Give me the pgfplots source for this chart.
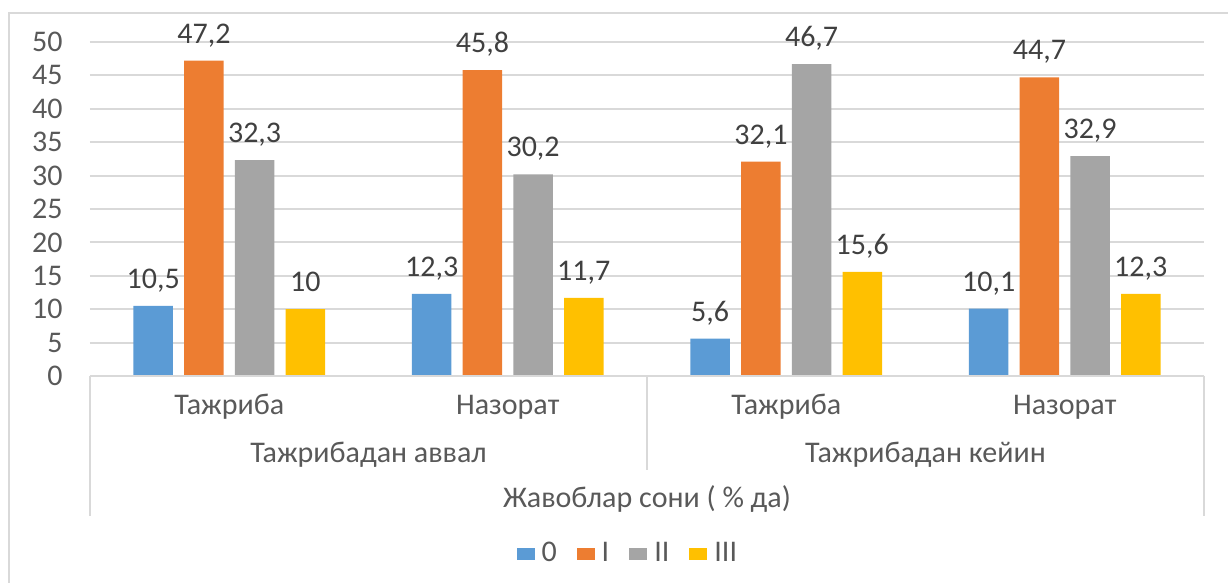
\documentclass[border=0pt]{standalone}
\usepackage{pgfplots}
\pgfplotsset{compat=1.18}
\usepackage{fontspec}
\setmainfont{Carlito}
\definecolor{cO}{HTML}{5B9BD5}
\definecolor{cI}{HTML}{ED7D31}
\definecolor{cII}{HTML}{A5A5A5}
\definecolor{cIII}{HTML}{FFC000}
\definecolor{grid}{HTML}{D9D9D9}
\definecolor{txt}{HTML}{595959}
\definecolor{lbl}{HTML}{404040}
\begin{document}
\fontsize{15}{18}\selectfont
\begin{tikzpicture}
\begin{axis}[
  name=ax,
  scale only axis,
  width=557pt, height=167pt,
  xmin=-0.5, xmax=3.5, ymin=0, ymax=50,
  enlargelimits=false,
  clip=false,
  ybar=5.6pt, bar width=19.75pt,
  axis line style={draw=none},
  major tick length=0pt,
  ymajorgrids, grid style={draw=grid, line width=1pt},
  ytick={0,5,...,50},
  xtick={0,1,2,3}, xticklabels={},
  yticklabel style={anchor=east, inner sep=0pt, xshift=-13.5pt, text=txt},
  /pgf/number format/assume math mode=true,
  /pgf/number format/use comma,
  nodes near coords,
  nodes near coords style={anchor=base, yshift=8.75pt, text=lbl, inner sep=0pt},
  legend columns=4,
  legend style={draw=none, at={(rel axis cs:0.485,0)}, anchor=center, yshift=-89pt,
    /tikz/every even column/.append style={column sep=6.5pt}, text=txt, inner sep=0pt,
    nodes={inner xsep=3.5pt, inner ysep=1.5pt}},
  legend image code/.code={\fill[#1] (0pt,-3pt) rectangle (9pt,3pt);},
]
\addplot[fill=cO, draw=none] coordinates {(0,10.5) (1,12.3) (2,5.6) (3,10.1)};
\addplot[fill=cI, draw=none] coordinates {(0,47.2) (1,45.8) (2,32.1) (3,44.7)};
\addplot[fill=cII, draw=none] coordinates {(0,32.3) (1,30.2) (2,46.7) (3,32.9)};
\addplot[fill=cIII, draw=none] coordinates {(0,10) (1,11.7) (2,15.6) (3,12.3)};
\legend{0,I,II,III}
\draw[grid, line width=1pt] (axis cs:-0.5,0) -- (axis cs:3.5,0);
\draw[grid, line width=1pt] (axis cs:-0.5,0) -- ([yshift=-70pt]axis cs:-0.5,0);
\draw[grid, line width=1pt] (axis cs:1.5,0) -- ([yshift=-47pt]axis cs:1.5,0);
\draw[grid, line width=1pt] (axis cs:3.5,0) -- ([yshift=-70pt]axis cs:3.5,0);
\node[text=txt, anchor=base, yshift=-19.5pt] at (axis cs:0,0) {Тажриба};
\node[text=txt, anchor=base, yshift=-19.5pt] at (axis cs:1,0) {Назорат};
\node[text=txt, anchor=base, yshift=-19.5pt] at (axis cs:2,0) {Тажриба};
\node[text=txt, anchor=base, yshift=-19.5pt] at (axis cs:3,0) {Назорат};
\node[text=txt, anchor=base, yshift=-43.5pt] at (axis cs:0.5,0) {Тажрибадан аввал};
\node[text=txt, anchor=base, yshift=-43.5pt] at (axis cs:2.5,0) {Тажрибадан кейин};
\node[text=txt, anchor=base, yshift=-66pt] at (axis cs:1.5,0) {Жавоблар сони ( \% да)};
\end{axis}
\draw[grid, line width=1.2pt] (-40.5pt,-120pt) -- (-40.5pt,181.5pt) -- (600pt,181.5pt);
\pgfresetboundingbox
\useasboundingbox (-45pt,-103.5pt) rectangle (569pt,188pt);
\end{tikzpicture}
\end{document}
